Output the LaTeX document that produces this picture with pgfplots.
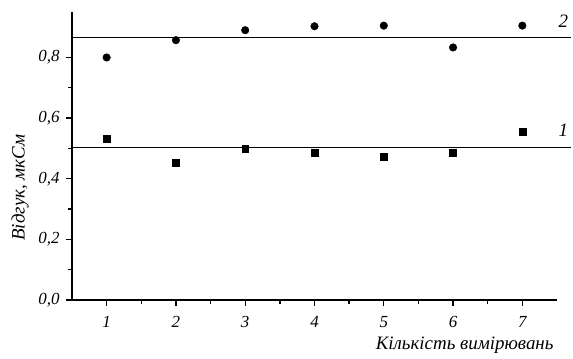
\documentclass[border=0pt]{standalone}
\usepackage{fontspec}
\setmainfont{Liberation Serif}
\usepackage{pgfplots}
\pgfplotsset{compat=1.18}
\begin{document}
\begin{tikzpicture}
\path[use as bounding box] (-72bp,-59bp) rectangle (501bp,300bp);
\begin{axis}[
  at={(0,0)}, anchor=south west,
  scale only axis, width=485bp, height=288bp,
  axis lines=left, axis line style={-, line width=1.6bp},
  xmin=0.5, xmax=7.5, ymin=0, ymax=0.95,
  xtick={1,...,7}, ytick={0,0.2,0.4,0.6,0.8},
  minor x tick num=1, minor y tick num=1,
  tick align=outside,
  major tick length=6bp, minor tick length=4bp,
  tick style={line width=1.3bp, black},
  /pgf/number format/.cd, use comma, fixed, fixed zerofill, precision=1, assume math mode=true,
  /pgfplots/.cd,
  xticklabel style={font=\fontsize{17}{19}\selectfont\itshape, yshift=-7bp, /pgf/number format/precision=0, /pgf/number format/fixed zerofill=false},
  yticklabel style={font=\fontsize{17}{19}\selectfont\itshape, xshift=-3bp},
  ylabel={Відгук, мкСм},
  ylabel style={at={(axis description cs:-0.107,0.39)}, anchor=center, rotate=0, font=\fontsize{19}{21}\selectfont\itshape},
  xlabel={Кількість вимірювань},
  xlabel style={at={(axis description cs:1,-0.156)}, anchor=east, font=\fontsize{19}{21}\selectfont\itshape},
  clip=false,
]
\addplot[black, line width=1bp] coordinates {(0.5,0.865) (7.7,0.865)};
\addplot[black, line width=1bp] coordinates {(0.5,0.502) (7.7,0.502)};
\addplot[only marks, mark=*, mark size=3.8bp, black] coordinates {
(1,0.800) (2,0.857) (3,0.890) (4,0.903) (5,0.905) (6,0.833) (7,0.905)};
\addplot[only marks, mark=square*, mark size=3.4bp, black] coordinates {
(1,0.533) (2,0.454) (3,0.500) (4,0.487) (5,0.474) (6,0.487) (7,0.556)};
\node[font=\fontsize{19}{21}\selectfont\itshape] at (axis cs:7.59,0.92) {2};
\node[font=\fontsize{19}{21}\selectfont\itshape] at (axis cs:7.59,0.56) {1};
\end{axis}
\end{tikzpicture}
\end{document}
